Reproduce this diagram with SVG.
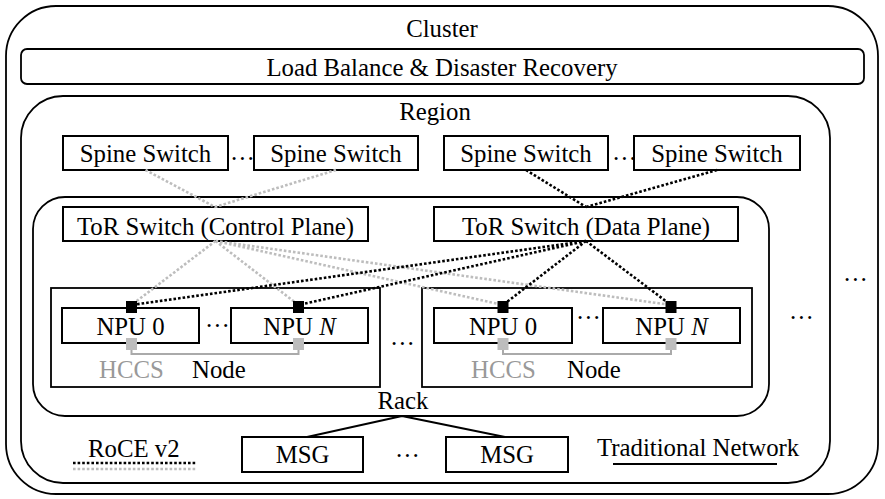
<svg xmlns="http://www.w3.org/2000/svg" width="885" height="499" viewBox="0 0 885 499">
<style>
text{font-family:"Liberation Serif","Times New Roman",serif;font-size:24.8px;fill:#000}
.c{text-anchor:middle}
.g{fill:#999}
.box{fill:#fff;stroke:#000;stroke-width:2}
.area{fill:none;stroke:#000;stroke-width:1.8}
.bd{fill:none;stroke:#000;stroke-width:2.6;stroke-dasharray:2.6 2}
.gd{fill:none;stroke:#bdbdbd;stroke-width:2.6;stroke-dasharray:2.6 2}
.sq{fill:#000}
.gsq{fill:#bdbdbd}
</style>
<g id="cluster">
<rect x="6" y="6" width="872" height="488" rx="50" class="area"/>
<text x="442" y="37" class="c">Cluster</text>
</g>
<g id="lb">
<rect x="21" y="49" width="843" height="35" rx="6" class="area"/>
<text x="442" y="76" class="c">Load Balance &amp; Disaster Recovery</text>
</g>
<g id="region">
<rect x="21" y="96" width="809" height="387" rx="42" class="area"/>
<text x="435" y="120" class="c">Region</text>
</g>
<g id="rack">
<rect x="33" y="197" width="736" height="219" rx="32" class="area"/>
<text x="403" y="409" class="c">Rack</text>
</g>
<g id="spine1"><rect x="63" y="136" width="165" height="34" class="box"/><text x="145.5" y="162" class="c">Spine Switch</text></g>
<g id="spine2"><rect x="254" y="136" width="164" height="34" class="box"/><text x="336" y="162" class="c">Spine Switch</text></g>
<g id="spine3"><rect x="444" y="136" width="164" height="34" class="box"/><text x="526" y="162" class="c">Spine Switch</text></g>
<g id="spine4"><rect x="634" y="136" width="166" height="34" class="box"/><text x="717" y="162" class="c">Spine Switch</text></g>
<text x="230" y="160">…</text>
<text x="612" y="160">…</text>
<g id="tor-control"><rect x="63" y="207" width="305" height="34" class="box"/><text x="215.5" y="235" class="c">ToR Switch (Control Plane)</text></g>
<g id="tor-data"><rect x="434" y="207" width="304" height="34" class="box"/><text x="586" y="235" class="c">ToR Switch (Data Plane)</text></g>
<g id="node1">
<rect x="51" y="288" width="329" height="99" class="area"/>
<rect x="62" y="308" width="137" height="35" class="box"/>
<text x="130.5" y="335" class="c">NPU 0</text>
<rect x="231" y="308" width="137" height="35" class="box"/>
<text x="299.5" y="335" class="c">NPU <tspan font-style="italic">N</tspan></text>
<text x="205" y="327">…</text>
<text x="99" y="378" class="g">HCCS</text>
<text x="192" y="378">Node</text>
</g>
<g id="node2">
<rect x="422" y="288" width="330" height="99" class="area"/>
<rect x="434" y="308" width="138" height="35" class="box"/>
<text x="503" y="335" class="c">NPU 0</text>
<rect x="603" y="308" width="137" height="35" class="box"/>
<text x="671.5" y="335" class="c">NPU <tspan font-style="italic">N</tspan></text>
<text x="576" y="319">…</text>
<text x="471" y="378" class="g">HCCS</text>
<text x="567" y="378">Node</text>
</g>
<text x="390" y="345">…</text>
<text x="789" y="319">…</text>
<text x="843" y="281">…</text>
<g id="msg1"><rect x="242" y="437" width="121" height="35" class="box"/><text x="302.5" y="463" class="c">MSG</text></g>
<g id="msg2"><rect x="446" y="437" width="122" height="35" class="box"/><text x="507" y="463" class="c">MSG</text></g>
<text x="395" y="457">…</text>
<g id="legend">
<text x="88" y="457">RoCE v2</text>
<line x1="73" y1="463" x2="197" y2="463" class="bd"/>
<line x1="73" y1="469" x2="197" y2="469" class="gd"/>
<text x="597" y="456">Traditional Network</text>
<line x1="613" y1="464" x2="777" y2="464" stroke="#000" stroke-width="1.8"/>
</g>
<g id="connectors">
<path class="gd" d="M145.5 170 L215 207 M336 170 L215 207"/>
<path class="gd" d="M215.5 241 L131.5 305 M215.5 241 L298.5 305 M215.5 241 L503 305 M215.5 241 L671 305"/>
<path class="bd" d="M526 170 L586 207 M717 170 L586 207"/>
<path class="bd" d="M586 241 L131.5 305 M586 241 L298.5 305 M586 241 L503 305 M586 241 L671 305"/>
<path d="M131.5 344 V354 H298.5 V344 M503 344 V354 H671 V344" fill="none" stroke="#aaa" stroke-width="2"/>
<path d="M402 416 L307 437 M402 416 L505 437" fill="none" stroke="#000" stroke-width="1.8"/>
<rect x="126" y="301" width="11" height="12" class="sq"/>
<rect x="293" y="301" width="11" height="12" class="sq"/>
<rect x="497.5" y="301" width="11" height="12" class="sq"/>
<rect x="665.5" y="301" width="11" height="12" class="sq"/>
<rect x="126" y="338" width="11" height="12" class="gsq"/>
<rect x="293" y="338" width="11" height="12" class="gsq"/>
<rect x="497.5" y="338" width="11" height="12" class="gsq"/>
<rect x="665.5" y="338" width="11" height="12" class="gsq"/>
</g>
</svg>
